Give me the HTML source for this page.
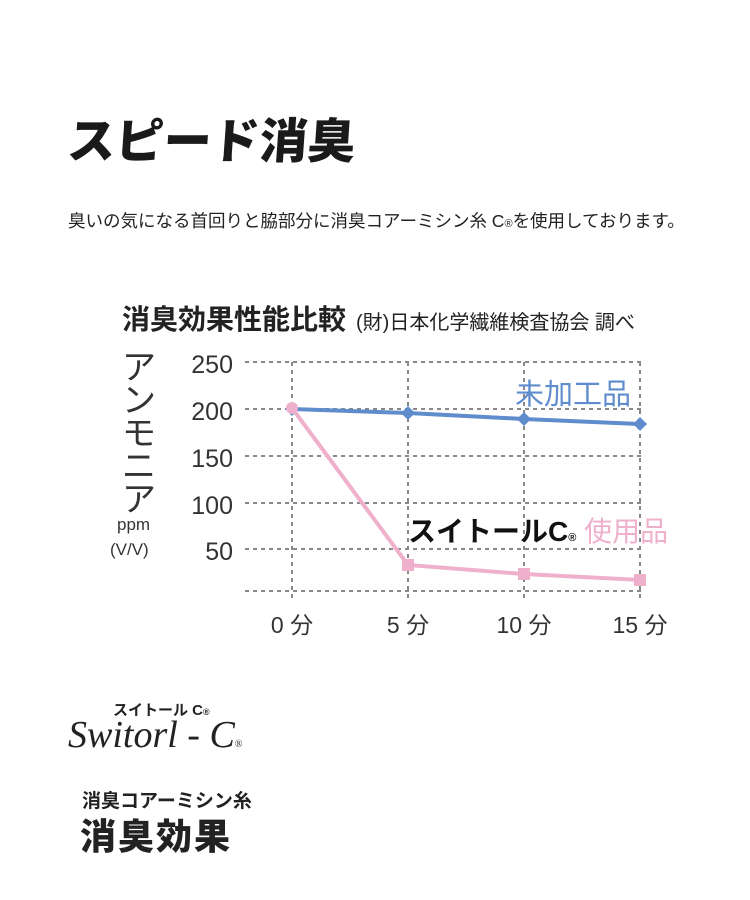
<!DOCTYPE html>
<html><head><meta charset="utf-8"><style>
body{margin:0;width:750px;height:900px;background:#fff;font-family:"Liberation Sans","Noto Sans CJK JP",sans-serif;color:#222;position:relative;overflow:hidden}
.a{position:absolute;white-space:nowrap}
</style></head><body>
<div class="a" style="left:68px;top:102px;font-size:48px;font-weight:900;letter-spacing:0px;transform:skewX(-4deg);color:#1a1a1a">スピード消臭</div>
<div class="a" style="left:68px;top:208px;font-size:17.5px;color:#222">臭いの気になる首回りと脇部分に消臭コアーミシン糸 C<span style="font-size:11px">®</span>を使用しております。</div>
<div class="a" style="left:122px;top:301px;font-size:28px;font-weight:bold;line-height:38px">消臭効果性能比較<span style="font-size:20px;font-weight:normal;margin-left:10px">(財)日本化学繊維検査協会 調べ</span></div>
<svg class="a" style="left:0;top:0" width="750" height="900">
<g stroke="#888" stroke-width="2" stroke-dasharray="4,4" fill="none">
<line x1="245" y1="362" x2="642" y2="362"/><line x1="245" y1="409" x2="642" y2="409"/><line x1="245" y1="456" x2="642" y2="456"/><line x1="245" y1="503" x2="642" y2="503"/><line x1="245" y1="549" x2="642" y2="549"/><line x1="245" y1="591" x2="642" y2="591"/>
<line x1="292" y1="362" x2="292" y2="598"/><line x1="408" y1="362" x2="408" y2="598"/><line x1="524" y1="362" x2="524" y2="598"/><line x1="640" y1="362" x2="640" y2="598"/>
</g>
<polyline points="292,409 408,413 524,419 640,424" stroke="#5e8ccc" stroke-width="4" fill="none"/>
<g fill="#5e8ccc"><path d="M292,402 l7,7 -7,7 -7,-7z"/><path d="M408,406 l7,7 -7,7 -7,-7z"/><path d="M524,412 l7,7 -7,7 -7,-7z"/><path d="M640,417 l7,7 -7,7 -7,-7z"/></g>
<polyline points="292,408 408,565 524,574 640,580" stroke="#efb0cc" stroke-width="4" fill="none"/>
<g fill="#efb0cc"><circle cx="292" cy="408" r="6"/><rect x="402" y="559" width="12" height="12"/><rect x="518" y="568" width="12" height="12"/><rect x="634" y="574" width="12" height="12"/></g>
<g font-size="25" fill="#333" text-anchor="end" font-family="Liberation Sans, sans-serif"><text x="233" y="373">250</text><text x="233" y="420">200</text><text x="233" y="467">150</text><text x="233" y="514">100</text><text x="233" y="560">50</text></g>
<g font-size="23" fill="#333" text-anchor="middle" font-family="Liberation Sans, Noto Sans CJK JP, sans-serif"><text x="292" y="633">0 分</text><text x="408" y="633">5 分</text><text x="524" y="633">10 分</text><text x="640" y="633">15 分</text></g>
</svg>
<div class="a" style="left:122px;top:352px;font-size:34px;line-height:33px;width:40px;white-space:normal;color:#333">ア<br>ン<br>モ<br>ニ<br>ア</div>
<div class="a" style="left:117px;top:515px;font-size:17px;color:#333">ppm</div>
<div class="a" style="left:110px;top:540px;font-size:17px;color:#333">(V/V)</div>
<div class="a" style="left:515px;top:371px;font-size:29px;color:#5e8ccc">未加工品</div>
<div class="a" style="left:408px;top:510px;font-size:28px;font-weight:bold;color:#111">スイトールC<span style="font-size:11px">®</span> <span style="color:#efb0cc;font-weight:normal">使用品</span></div>
<div class="a" style="left:113px;top:699px;font-size:15px;font-weight:bold">スイトール C<span style="font-size:9px">®</span></div>
<div class="a" style="left:68px;top:713px;font-size:38px;font-style:italic;font-family:'Liberation Serif',serif">Switorl - C<span style="font-size:10px;font-style:normal">®</span></div>
<div class="a" style="left:82px;top:786px;font-size:19px;font-weight:bold">消臭コアーミシン糸</div>
<div class="a" style="left:80px;top:808px;font-size:36px;font-weight:900;letter-spacing:2px">消臭効果</div>
</body></html>
